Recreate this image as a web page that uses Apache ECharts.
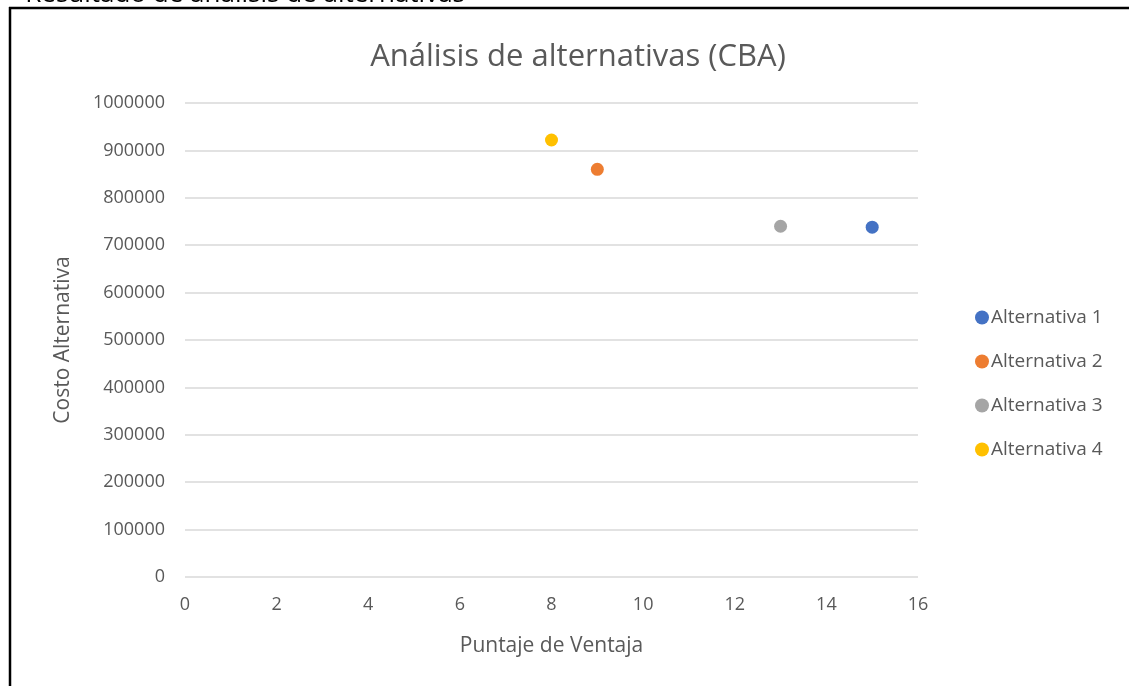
<!DOCTYPE html>
<html>
<head>
<meta charset="utf-8">
<script src="https://cdn.jsdelivr.net/npm/echarts@6/dist/echarts.min.js"></script>
<style>
  html, body { margin: 0; padding: 0; background: #fff; }
  #chart { width: 1129px; height: 686px; }
</style>
</head>
<body>
<div id="chart"></div>
<script>
// data
const seriesNames = ['Alternativa 1', 'Alternativa 2', 'Alternativa 3', 'Alternativa 4'];
const puntaje = [15, 9, 13, 8];
const costo = [738000, 860000, 740000, 922000];
const colors = ['#4472c4', '#ed7d31', '#a5a5a5', '#ffc000'];

const FONT = '"Open Sans", sans-serif';
const GREY = '#595959';

const chart = echarts.init(document.getElementById('chart'));

const series = seriesNames.map((name, i) => ({
    name: name,
    type: 'scatter',
    symbolSize: 13,
    itemStyle: { color: colors[i], opacity: 1 },
    data: [[puntaje[i], costo[i]]]
}));

chart.setOption({
    animation: false,
    title: {
        text: 'Análisis de alternativas (CBA)',
        left: 573,
        top: 37,
        textAlign: 'center',
        textStyle: { fontFamily: FONT, fontSize: 31, fontWeight: 'normal', color: GREY }
    },
    legend: {
        orient: 'vertical',
        left: 970,
        top: 303,
        itemGap: 25,
        itemWidth: 14,
        itemHeight: 14,
        icon: 'circle',
        textStyle: { fontFamily: FONT, fontSize: 19, color: GREY, padding: [0, 0, 0, -3] },
        data: seriesNames
    },
    grid: { left: 185, right: 1129 - 918, top: 103, bottom: 686 - 577 },
    xAxis: {
        type: 'value',
        min: 0, max: 16, interval: 2,
        name: 'Puntaje de Ventaja',
        nameLocation: 'middle',
        nameGap: 59,
        nameTextStyle: { fontFamily: FONT, fontSize: 21, color: GREY },
        axisLine: { show: false },
        axisTick: { show: false },
        splitLine: { show: false },
        axisLabel: { fontFamily: FONT, fontSize: 18, color: GREY, margin: 19 }
    },
    yAxis: {
        type: 'value',
        min: 0, max: 1000000, interval: 100000,
        name: 'Costo Alternativa',
        nameLocation: 'middle',
        nameGap: 111,
        nameTextStyle: { fontFamily: FONT, fontSize: 21, color: GREY },
        axisLine: { show: false },
        axisTick: { show: false },
        splitLine: { lineStyle: { color: '#d9d9d9', width: 1.5 } },
        axisLabel: {
            fontFamily: FONT, fontSize: 18, color: GREY, margin: 20,
            formatter: (v) => String(v)
        }
    },
    graphic: [
        {
            type: 'text',
            style: {
                x: 465, y: 8, align: 'right', verticalAlign: 'bottom',
                text: 'Resultado de análisis de alternativas', font: '26px ' + FONT, fill: '#000'
            }
        },
        { type: 'line', shape: { x1: 9, y1: 8, x2: 1129, y2: 8 }, style: { stroke: '#000', lineWidth: 2.5 } },
        { type: 'line', shape: { x1: 10, y1: 7, x2: 10, y2: 686 }, style: { stroke: '#000', lineWidth: 2.5 } }
    ],
    series: series
});
</script>
</body>
</html>
